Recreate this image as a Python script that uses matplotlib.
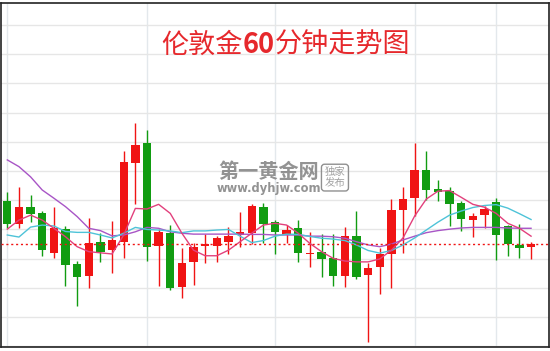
import numpy as np
import matplotlib
matplotlib.use("Agg")
import matplotlib.pyplot as plt
from matplotlib.offsetbox import TextArea, HPacker, AnchoredOffsetbox

plt.rcParams['font.family'] = ['Noto Sans CJK SC', 'DejaVu Sans']

# 60-minute candles, London gold (price)
opens = [1283.98, 1283.18, 1283.78, 1283.57, 1282.20, 1283.01, 1281.82, 1281.40, 1282.56, 1282.29,
         1282.58, 1285.28, 1285.95, 1282.43, 1282.87, 1281.04, 1281.89, 1282.43, 1282.44, 1282.58,
         1282.80, 1282.89, 1283.78, 1283.24, 1282.81, 1283.04, 1282.15, 1282.24, 1282.01, 1281.41,
         1282.78, 1281.44, 1281.70, 1282.16, 1283.66, 1284.09, 1285.03, 1284.38, 1284.32, 1283.91,
         1283.32, 1283.48, 1283.93, 1283.12, 1282.47, 1282.39]
highs = [1284.29, 1284.44, 1284.18, 1283.63, 1283.78, 1283.12, 1281.92, 1283.38, 1282.87, 1283.29,
         1285.68, 1286.63, 1286.40, 1283.00, 1283.15, 1282.35, 1282.54, 1282.84, 1282.77, 1283.07,
         1283.59, 1283.86, 1283.91, 1283.32, 1283.15, 1283.32, 1282.92, 1282.84, 1282.84, 1283.07,
         1283.63, 1281.86, 1282.35, 1284.03, 1284.46, 1285.97, 1285.68, 1284.69, 1284.46, 1283.98,
         1283.55, 1283.80, 1284.07, 1283.15, 1283.18, 1282.58]
lows = [1283.05, 1283.04, 1283.26, 1282.10, 1282.01, 1281.07, 1280.38, 1281.00, 1281.87, 1281.50,
        1282.03, 1283.86, 1281.93, 1281.07, 1280.92, 1280.67, 1281.10, 1281.84, 1281.89, 1282.16,
        1282.41, 1282.50, 1282.54, 1282.16, 1282.52, 1281.87, 1281.72, 1281.38, 1281.07, 1281.02,
        1281.30, 1279.15, 1280.79, 1280.99, 1282.20, 1283.46, 1284.01, 1283.98, 1283.12, 1282.96,
        1282.75, 1283.04, 1281.95, 1282.10, 1282.03, 1281.98]
closes = [1283.18, 1283.78, 1283.53, 1282.29, 1283.04, 1281.80, 1281.38, 1282.52, 1282.24, 1282.64,
          1285.32, 1285.89, 1282.41, 1282.92, 1280.98, 1281.84, 1282.41, 1282.47, 1282.72, 1282.78,
          1282.91, 1283.80, 1283.18, 1282.90, 1282.98, 1282.20, 1282.18, 1281.99, 1281.41, 1282.78,
          1281.38, 1281.67, 1282.15, 1283.66, 1284.04, 1285.03, 1284.35, 1284.29, 1283.87, 1283.35,
          1283.47, 1283.69, 1282.81, 1282.49, 1282.35, 1282.49]

# moving averages as drawn on the chart
ma5 = [1283.01, 1283.32, 1283.49, 1283.32, 1283.04, 1282.75, 1282.41, 1282.24, 1282.20, 1282.16,
       1282.81, 1283.72, 1283.70, 1283.86, 1283.55, 1282.87, 1282.29, 1282.10, 1282.10, 1282.29,
       1282.58, 1282.87, 1283.15, 1283.21, 1283.15, 1282.87, 1282.52, 1282.24, 1282.01, 1281.92,
       1281.89, 1281.89, 1281.99, 1282.29, 1282.71, 1283.46, 1284.04, 1284.31, 1284.33, 1284.10,
       1283.86, 1283.76, 1283.55, 1283.21, 1283.04, 1282.77]
ma10 = [1282.81, 1282.74, 1283.08, 1283.15, 1283.12, 1282.93, 1282.90, 1282.90, 1282.81, 1282.71,
        1282.87, 1283.07, 1283.00, 1282.98, 1282.95, 1282.89, 1282.95, 1282.95, 1282.98, 1283.00,
        1282.77, 1282.55, 1282.62, 1282.77, 1282.84, 1282.83, 1282.76, 1282.70, 1282.67, 1282.62,
        1282.47, 1282.28, 1282.19, 1282.28, 1282.47, 1282.71, 1282.98, 1283.25, 1283.49, 1283.63,
        1283.75, 1283.82, 1283.85, 1283.73, 1283.54, 1283.34]
ma20 = [1285.38, 1285.15, 1284.80, 1284.35, 1284.07, 1283.78, 1283.44, 1283.04, 1282.96, 1282.78,
        1282.81, 1282.92, 1283.07, 1283.04, 1282.92, 1282.87, 1282.84, 1282.84, 1282.84, 1282.84,
        1282.84, 1282.83, 1282.83, 1282.81, 1282.81, 1282.81, 1282.77, 1282.77, 1282.75, 1282.70,
        1282.58, 1282.47, 1282.41, 1282.50, 1282.64, 1282.77, 1282.89, 1282.96, 1283.01, 1283.05,
        1283.07, 1283.07, 1283.07, 1283.05, 1283.04, 1283.04]

# candles where the chart has its vertical (session) grid lines
session_marks = [0, 12, 23, 35, 42]

UP = "#f01414"
DOWN = "#119c11"

fig = plt.figure(figsize=(5.5, 3.51), dpi=100)
ax = fig.add_axes([0.0027, 0.0100, 0.9946, 0.9806])

n = len(closes)
x = np.arange(n)
o = np.array(opens)
c = np.array(closes)
colors = [UP if cc >= oo else DOWN for oo, cc in zip(o, c)]

# grid
for xm in session_marks:
    ax.axvline(xm, color="#e3e8ec", lw=1.0, zorder=0)
for yv in range(1279, 1291):
    ax.axhline(yv, color="#e6e6e6", lw=1.0, zorder=0)

# wicks and bodies
ax.vlines(x, lows, highs, colors=colors, lw=1.0, zorder=2)
body_low = np.minimum(o, c)
body_h = np.maximum(np.abs(c - o), 0.06)
ax.bar(x, body_h, bottom=body_low, width=0.72, color=colors, linewidth=0, zorder=3)

# moving averages
ax.plot(x, ma20, color="#a855c6", lw=1.0, zorder=4)
ax.plot(x, ma10, color="#4ec3d8", lw=1.0, zorder=4)
ax.plot(x, ma5, color="#e2407c", lw=1.0, zorder=4)

# last price line
ax.axhline(closes[-1], color="#f01414", lw=1.0, ls=(0, (1.5, 2)), zorder=5)

ax.set_xlim(-0.5, n + 0.5)
ax.set_ylim(1278.96, 1290.74)
ax.set_xticks([])
ax.set_yticks([])
for sp in ax.spines.values():
    sp.set_color("#222222")
    sp.set_linewidth(1.2)

# title with bold "60"
title_red = "#e6282c"
parts = [
    TextArea("伦敦金", textprops=dict(color=title_red, fontsize=19.5)),
    TextArea("60", textprops=dict(color=title_red, fontsize=19.5, fontweight="bold")),
    TextArea("分钟走势图", textprops=dict(color=title_red, fontsize=19.5)),
]
box = HPacker(children=parts, align="baseline", pad=0, sep=0)
anchored = AnchoredOffsetbox(loc="center", child=box, pad=0, frameon=False,
                             bbox_to_anchor=(286 / 550, 1 - 45 / 351),
                             bbox_transform=fig.transFigure, borderpad=0)
fig.add_artist(anchored)

# watermark
fig.text(0.489, 0.512, "第一黄金网", color="#808080", fontsize=14.5, fontweight="bold",
         ha="center", va="center", alpha=0.85, zorder=10)
fig.text(0.489, 0.462, "www.dyhjw.com", color="#808080", fontsize=8.3, fontweight="bold",
         family="DejaVu Sans", ha="center", va="center", alpha=0.85, zorder=10)
fig.text(0.609, 0.494, "独家\n发布", color="#909090", fontsize=7.5, ha="center", va="center",
         linespacing=1.05, alpha=0.85, zorder=10,
         bbox=dict(boxstyle="round,pad=0.3", fc="none", ec="#909090", lw=1.0))

fig.savefig("out.png", dpi=100)
